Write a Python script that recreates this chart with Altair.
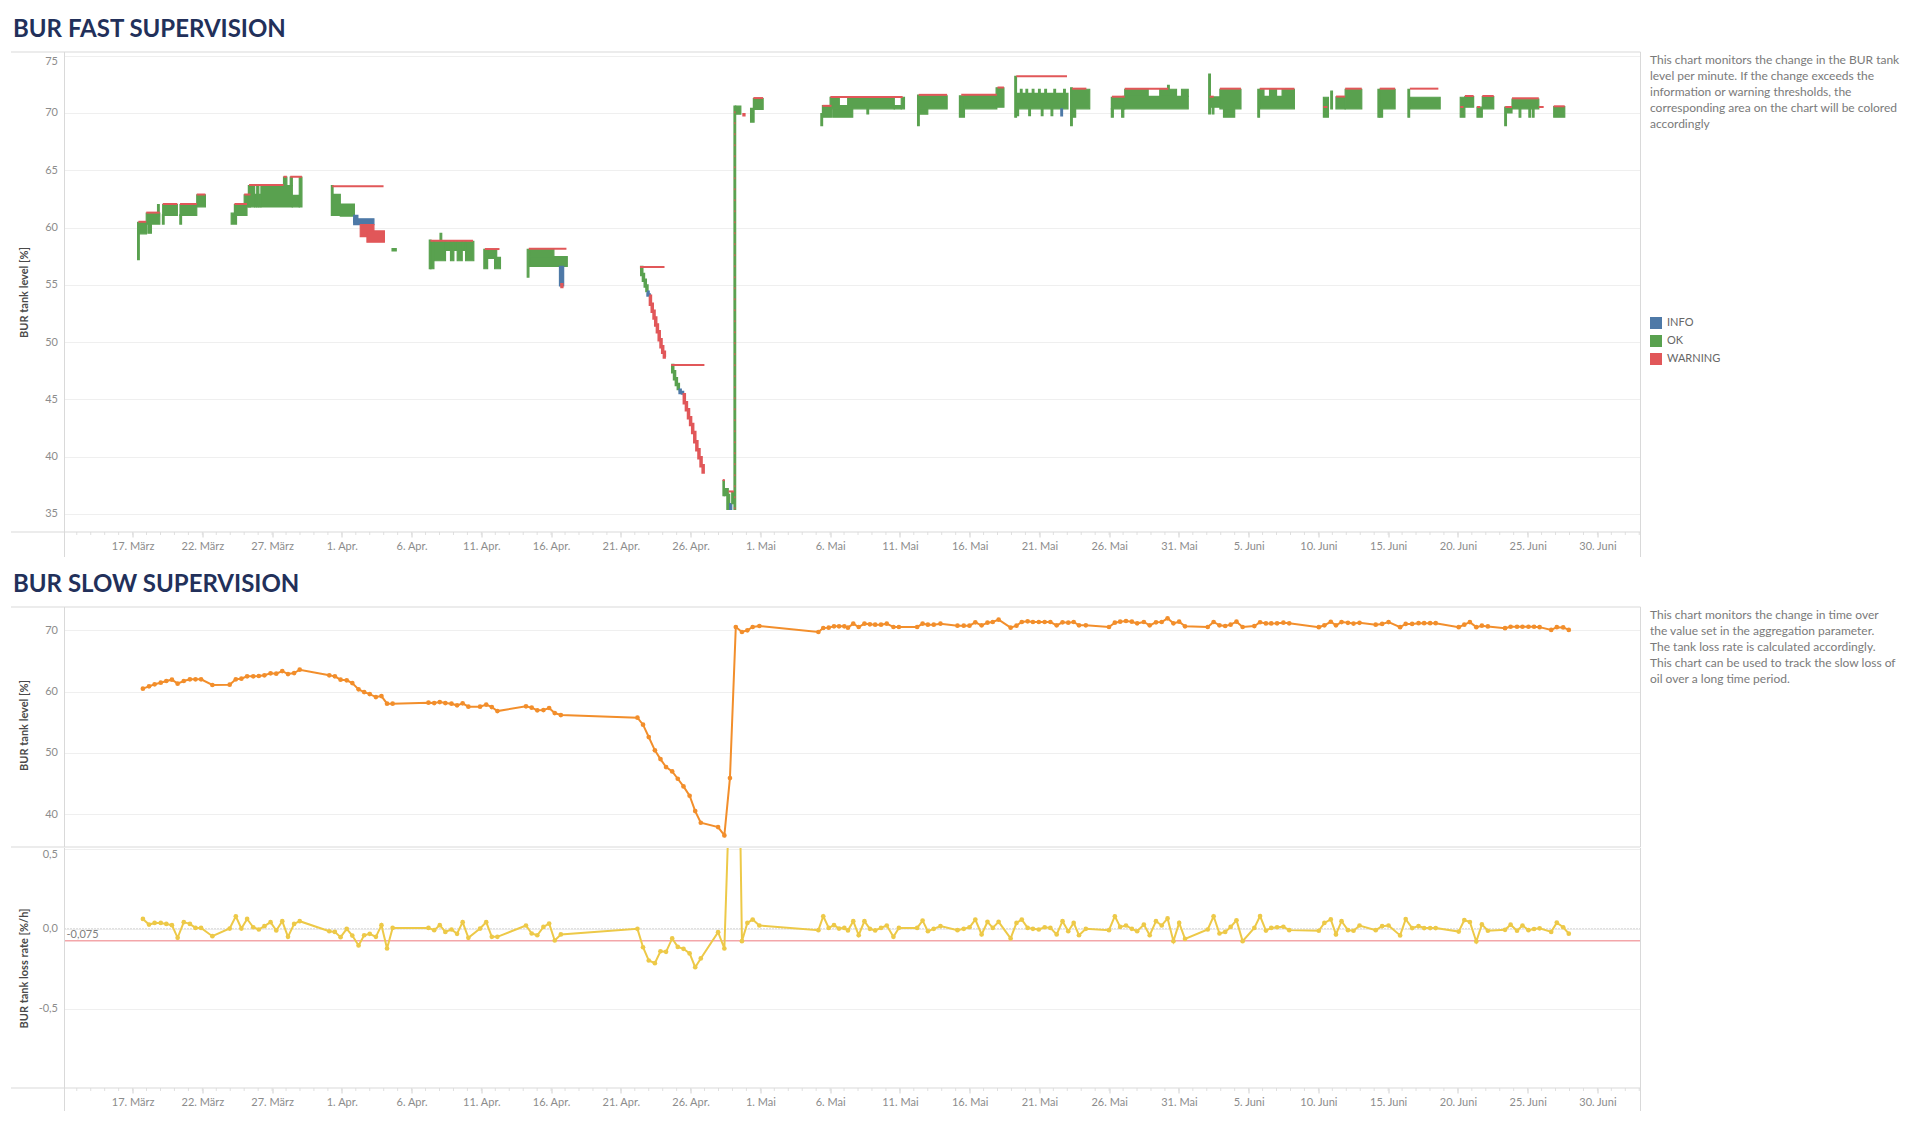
import altair as alt
import pandas as pd

BASE = pd.Timestamp("2024-03-17")

# ---------------- axis labels ----------------
tick_dates = ["2024-03-17", "2024-03-22", "2024-03-27", "2024-04-01", "2024-04-06",
              "2024-04-11", "2024-04-16", "2024-04-21", "2024-04-26", "2024-05-01",
              "2024-05-06", "2024-05-11", "2024-05-16", "2024-05-21", "2024-05-26",
              "2024-05-31", "2024-06-05", "2024-06-10", "2024-06-15", "2024-06-20",
              "2024-06-25", "2024-06-30"]
month_labels = ["Jan.", "Feb.", "März", "Apr.", "Mai", "Juni", "Juli", "Aug.", "Sep.",
                "Okt.", "Nov.", "Dez."]
status_names = ["INFO", "OK", "WARNING"]
status_colors = ["#4e79a7", "#59a14f", "#e15759"]
fast_y_ticks = [35, 40, 45, 50, 55, 60, 65, 70, 75]
level_y_ticks = [40, 50, 60, 70]
rate_y_ticks = [0.5, 0.0, -0.5]

# ---------------- FAST supervision (days after 17 March) ----------------
# dense oscillation blocks: start day, end day, low level, high level, status
fast_blocks = [
    (0.45, 1.00, 59.45, 60.45, "OK"), (0.98, 1.95, 60.30, 61.25, "OK"),
    (1.10, 1.35, 59.50, 60.30, "OK"), (2.16, 3.21, 61.05, 62.00, "OK"),
    (3.40, 4.60, 61.05, 62.00, "OK"), (4.60, 5.22, 61.80, 62.85, "OK"),
    (7.07, 7.45, 60.30, 61.25, "OK"), (7.30, 8.20, 61.05, 62.00, "OK"),
    (8.00, 8.45, 61.80, 62.85, "OK"), (8.30, 8.75, 61.80, 63.66, "OK"),
    (8.75, 8.90, 61.80, 62.90, "OK"), (8.90, 9.05, 61.80, 63.66, "OK"),
    (9.05, 9.20, 61.80, 62.90, "OK"), (9.20, 11.45, 61.80, 63.66, "OK"),
    (10.82, 11.06, 63.66, 64.40, "OK"), (11.30, 11.45, 63.66, 64.40, "OK"),
    (11.45, 11.95, 61.80, 62.80, "OK"), (11.95, 12.14, 61.80, 64.40, "OK"),
    (14.31, 14.89, 61.05, 62.90, "OK"), (14.89, 15.90, 61.00, 62.05, "OK"),
    (15.85, 16.15, 60.45, 61.05, "INFO"), (15.85, 17.30, 60.26, 60.76, "INFO"),
    (16.32, 17.30, 59.20, 60.26, "WARNING"), (16.80, 18.05, 58.72, 59.70, "WARNING"),
    (18.60, 18.90, 57.95, 58.15, "OK"),
    (21.35, 21.60, 56.40, 58.80, "OK"), (21.60, 22.43, 57.10, 58.80, "OK"),
    (22.43, 22.79, 58.00, 58.80, "OK"), (22.79, 23.03, 57.10, 58.80, "OK"),
    (23.03, 23.27, 58.00, 58.80, "OK"), (23.27, 23.63, 57.10, 58.80, "OK"),
    (23.63, 23.87, 58.00, 58.80, "OK"), (23.87, 24.46, 57.10, 58.80, "OK"),
    (25.18, 25.45, 56.40, 58.10, "OK"), (25.45, 26.10, 57.30, 58.10, "OK"),
    (25.95, 26.37, 56.40, 57.40, "OK"),
    (28.45, 31.16, 56.60, 57.45, "OK"), (28.45, 30.20, 57.45, 58.10, "OK"),
    (30.60, 30.90, 54.90, 56.60, "INFO"), (30.70, 30.85, 54.75, 55.10, "WARNING"),
    (42.32, 42.42, 36.60, 37.90, "OK"), (42.42, 42.70, 36.60, 37.20, "OK"),
    (42.60, 42.80, 35.40, 36.70, "OK"), (42.80, 42.95, 35.40, 35.90, "INFO"),
    (42.95, 43.12, 35.90, 36.90, "OK"),
    (43.22, 43.60, 69.90, 70.60, "OK"), (43.75, 43.90, 69.75, 69.95, "WARNING"),
    (44.30, 44.55, 69.20, 70.40, "OK"), (44.50, 45.20, 70.30, 71.25, "OK"),
    (49.45, 50.10, 69.63, 70.65, "OK"), (50.00, 50.66, 70.36, 71.37, "OK"),
    (50.66, 51.26, 70.36, 70.65, "OK"), (51.26, 54.60, 70.36, 71.37, "OK"),
    (54.60, 55.10, 70.36, 70.65, "OK"), (55.10, 55.33, 70.36, 71.37, "OK"),
    (50.19, 51.62, 69.63, 70.36, "OK"),
    (56.35, 58.39, 70.36, 71.50, "OK"), (56.35, 57.00, 69.90, 70.36, "OK"),
    (59.27, 59.63, 69.63, 71.50, "OK"), (59.63, 61.95, 70.36, 71.52, "OK"),
    (61.90, 62.46, 70.50, 72.20, "OK"),
    (63.35, 67.05, 70.36, 71.70, "OK"),
    (67.35, 68.61, 70.36, 72.07, "OK"), (67.35, 67.60, 69.63, 70.36, "OK"),
    (70.16, 71.12, 70.36, 71.37, "OK"), (70.16, 70.30, 69.63, 70.36, "OK"),
    (70.90, 71.05, 69.63, 70.36, "OK"), (71.00, 75.67, 70.36, 71.45, "OK"),
    (71.12, 72.80, 71.45, 72.07, "OK"), (73.63, 74.83, 71.45, 72.07, "OK"),
    (75.19, 75.67, 71.45, 72.07, "OK"),
    (77.27, 77.94, 70.50, 71.40, "OK"), (77.94, 79.45, 70.36, 72.07, "OK"),
    (78.20, 79.00, 69.63, 70.36, "OK"),
    (80.80, 83.28, 70.36, 71.45, "OK"), (80.80, 81.10, 71.45, 72.07, "OK"),
    (81.50, 82.00, 71.45, 72.07, "OK"), (82.40, 83.28, 71.45, 72.07, "OK"),
    (85.36, 85.72, 69.63, 71.37, "OK"), (86.26, 86.92, 70.36, 71.40, "OK"),
    (86.92, 88.11, 70.36, 72.07, "OK"),
    (89.40, 90.50, 70.36, 72.07, "OK"), (89.40, 89.60, 69.63, 70.36, "OK"),
    (91.56, 93.73, 70.36, 71.37, "OK"),
    (95.17, 95.50, 69.63, 71.37, "OK"), (95.50, 96.13, 70.50, 71.43, "OK"),
    (96.37, 96.75, 69.63, 70.50, "OK"), (96.75, 97.57, 70.36, 71.43, "OK"),
    (98.45, 98.88, 70.00, 70.50, "OK"), (98.88, 100.80, 70.36, 71.20, "OK"),
    (101.87, 102.66, 69.63, 70.55, "OK"),
]

# single vertical excursions: day, low, high, status
fast_spikes = [
    (0.42, 57.20, 60.45, "OK"), (1.85, 61.00, 62.00, "OK"), (2.20, 60.30, 61.10, "OK"),
    (3.45, 60.30, 61.10, "OK"), (14.31, 61.05, 63.66, "OK"), (21.33, 56.40, 58.90, "OK"),
    (22.10, 58.80, 59.50, "OK"), (28.35, 55.67, 58.10, "OK"), (43.17, 35.40, 70.60, "OK"),
    (49.40, 68.90, 69.95, "OK"), (52.70, 69.92, 70.36, "OK"), (56.33, 68.90, 71.55, "OK"),
    (63.30, 69.63, 73.20, "OK"), (63.70, 71.70, 72.07, "OK"), (64.10, 71.70, 72.07, "OK"),
    (64.55, 71.70, 72.07, "OK"), (65.00, 71.70, 72.07, "OK"), (65.45, 71.70, 72.07, "OK"),
    (66.10, 71.70, 72.07, "OK"), (66.80, 71.70, 72.07, "OK"), (63.45, 69.77, 70.36, "OK"),
    (64.30, 69.77, 70.36, "OK"), (65.20, 69.77, 70.36, "OK"), (65.90, 69.77, 70.36, "OK"),
    (66.60, 69.75, 70.36, "INFO"), (67.30, 68.90, 72.20, "OK"), (74.25, 72.07, 72.40, "OK"),
    (77.20, 69.92, 73.40, "OK"), (77.45, 69.92, 70.50, "OK"), (80.72, 69.63, 72.07, "OK"),
    (85.95, 70.36, 71.90, "OK"), (89.33, 69.63, 72.07, "OK"), (91.48, 69.63, 72.07, "OK"),
    (98.42, 68.90, 70.50, "OK"), (99.45, 69.63, 70.36, "OK"), (100.15, 69.63, 70.36, "OK"),
    (100.40, 69.63, 70.36, "OK"),
]

# warning level caps: start day, end day, level
fast_caps = [
    (0.42, 0.98, 60.50), (0.98, 1.95, 61.30), (2.16, 3.21, 62.05), (3.40, 4.60, 62.05),
    (4.60, 5.22, 62.88), (7.30, 8.20, 62.05), (8.00, 8.45, 62.88), (8.35, 10.82, 63.70),
    (10.82, 11.06, 64.43), (11.30, 12.14, 64.43), (14.31, 17.99, 63.60),
    (21.35, 24.40, 58.85), (25.25, 26.30, 58.12), (28.40, 31.10, 58.15),
    (36.37, 38.13, 56.55), (38.61, 40.99, 48.00), (42.30, 42.45, 37.95),
    (42.72, 43.10, 36.96), (44.50, 45.20, 71.30), (49.45, 50.10, 70.62),
    (50.02, 55.20, 71.40), (56.35, 58.39, 71.58), (59.40, 61.95, 71.58),
    (62.00, 62.46, 72.22), (63.35, 66.98, 73.20), (67.35, 68.37, 72.12),
    (70.20, 71.12, 71.42), (71.12, 74.24, 72.12), (77.20, 77.50, 71.42),
    (77.94, 79.45, 72.12), (80.80, 83.28, 72.12), (85.36, 85.65, 70.52),
    (86.26, 86.92, 71.43), (86.92, 88.11, 72.12), (89.40, 90.50, 72.12),
    (91.56, 93.60, 72.12), (95.17, 95.40, 70.52), (95.50, 96.13, 71.48),
    (96.37, 96.60, 70.52), (96.75, 97.57, 71.48), (98.40, 98.88, 70.52),
    (98.88, 100.80, 71.28), (100.80, 101.15, 70.52), (101.87, 102.66, 70.58),
]

# stepwise level drop: segment, day, level, status
fast_steps = [
    ("a", 36.37, 56.50, "OK"), ("a", 36.50, 55.90, "OK"), ("a", 36.62, 55.40, "OK"),
    ("a", 36.75, 54.90, "OK"), ("a", 36.87, 54.35, "OK"),
    ("b", 36.87, 54.35, "INFO"), ("b", 36.95, 54.10, "INFO"), ("b", 37.03, 54.00, "INFO"),
    ("c", 37.03, 54.00, "WARNING"), ("c", 37.12, 53.30, "WARNING"), ("c", 37.25, 52.70, "WARNING"),
    ("c", 37.38, 52.10, "WARNING"), ("c", 37.50, 51.50, "WARNING"), ("c", 37.62, 50.90, "WARNING"),
    ("c", 37.75, 50.20, "WARNING"), ("c", 37.88, 49.60, "WARNING"), ("c", 38.00, 49.10, "WARNING"),
    ("c", 38.12, 48.70, "WARNING"), ("c", 38.23, 48.70, "WARNING"),
    ("d", 38.61, 47.96, "OK"), ("d", 38.72, 47.40, "OK"), ("d", 38.85, 46.80, "OK"),
    ("d", 38.98, 46.30, "OK"), ("d", 39.12, 45.80, "OK"),
    ("e", 39.12, 45.80, "INFO"), ("e", 39.25, 45.60, "INFO"), ("e", 39.42, 45.40, "INFO"),
    ("f", 39.42, 45.40, "WARNING"), ("f", 39.55, 44.70, "WARNING"), ("f", 39.70, 44.10, "WARNING"),
    ("f", 39.85, 43.40, "WARNING"), ("f", 40.00, 42.80, "WARNING"), ("f", 40.15, 42.10, "WARNING"),
    ("f", 40.30, 41.30, "WARNING"), ("f", 40.45, 40.60, "WARNING"), ("f", 40.60, 39.90, "WARNING"),
    ("f", 40.75, 39.20, "WARNING"), ("f", 40.90, 38.50, "WARNING"),
]

fast_jump = [(43.17, 35.40, 70.60)]

# ---------------- SLOW supervision ----------------
slow_days = [
    0.74, 1.18, 1.58, 2.02, 2.42, 2.82, 3.23, 3.67, 4.11, 4.51, 4.91, 5.72, 6.96, 7.40, 7.80,
    8.21, 8.65, 9.05, 9.45, 9.89, 10.30, 10.73, 11.14, 11.58, 11.98, 14.10, 14.50, 14.91,
    15.35, 15.75, 16.20, 16.60, 17.00, 17.44, 17.84, 18.24, 18.64, 21.21, 21.62, 22.02,
    22.42, 22.86, 23.26, 23.66, 24.07, 24.91, 25.35, 25.75, 26.15, 28.20, 28.61, 29.01,
    29.45, 29.86, 30.26, 30.70, 36.19, 36.59, 37.00, 37.44, 37.84, 38.24, 38.68, 39.08,
    39.49, 39.93, 40.33, 40.73, 41.97, 42.42, 42.82, 43.24, 43.68, 44.07, 44.45, 44.93,
    49.16, 49.51, 49.90, 50.28, 50.64, 51.02, 51.28, 51.66, 52.05, 52.46, 52.85, 53.23,
    53.65, 54.06, 54.54, 54.93, 56.24, 56.63, 57.01, 57.43, 57.91, 59.13, 59.58, 59.99,
    60.41, 60.86, 61.28, 61.66, 62.08, 62.94, 63.36, 63.74, 64.16, 64.54, 64.96, 65.38,
    65.79, 66.24, 66.66, 67.07, 67.46, 67.84, 68.33, 69.99, 70.41, 70.79, 71.21, 71.63,
    72.01, 72.49, 72.91, 73.36, 73.77, 74.19, 74.61, 75.02, 75.44, 77.07, 77.49, 77.91,
    78.32, 78.71, 79.13, 79.57, 80.41, 80.82, 81.24, 81.62, 82.04, 82.49, 82.91, 85.03,
    85.43, 85.89, 86.26, 86.66, 87.12, 87.52, 87.95, 89.11, 89.57, 90.03, 90.86, 91.26,
    91.72, 92.18, 92.58, 93.01, 93.41, 95.06, 95.46, 95.86, 96.32, 96.72, 97.15, 98.38,
    98.78, 99.24, 99.63, 100.06, 100.46, 100.86, 101.69, 102.09, 102.55, 102.95,
]
slow_level = [
    60.47, 60.85, 61.18, 61.45, 61.72, 61.94, 61.29, 61.72, 62.00, 62.00, 62.00, 61.07, 61.13,
    62.00, 62.10, 62.48, 62.48, 62.54, 62.65, 62.97, 62.92, 63.35, 62.86, 63.02, 63.57, 62.65,
    62.48, 61.94, 61.83, 61.39, 60.36, 59.92, 59.59, 59.10, 59.26, 58.02, 58.02, 58.18, 58.12,
    58.28, 58.12, 58.02, 57.75, 58.07, 57.53, 57.53, 57.86, 57.47, 56.81, 57.58, 57.36, 56.93,
    56.98, 57.31, 56.49, 56.16, 55.73, 54.59, 52.57, 50.40, 48.97, 47.67, 46.96, 45.76, 44.51,
    42.98, 40.47, 38.57, 37.86, 36.50, 45.87, 70.54, 69.73, 70.00, 70.54, 70.71, 69.73, 70.38,
    70.44, 70.65, 70.65, 70.65, 70.44, 71.09, 70.54, 71.09, 70.98, 70.93, 70.93, 71.09, 70.54,
    70.54, 70.54, 71.09, 70.93, 70.93, 71.09, 70.76, 70.76, 70.76, 71.31, 70.82, 71.25, 71.36,
    71.74, 70.44, 70.76, 71.36, 71.47, 71.36, 71.36, 71.36, 71.36, 70.82, 71.31, 71.25, 71.36,
    70.82, 70.82, 70.54, 71.25, 71.41, 71.52, 71.41, 71.14, 71.36, 70.82, 71.31, 71.36, 71.96,
    71.14, 71.41, 70.65, 70.54, 71.36, 70.82, 70.71, 70.93, 71.41, 70.54, 70.70, 71.32, 71.13,
    71.13, 71.15, 71.25, 71.15, 70.52, 70.82, 71.40, 70.82, 71.34, 71.23, 71.11, 71.23, 70.93,
    71.05, 71.34, 70.52, 71.05, 71.05, 71.17, 71.17, 71.17, 71.17, 70.52, 70.93, 71.34, 70.52,
    70.76, 70.64, 70.35, 70.58, 70.58, 70.58, 70.58, 70.58, 70.52, 70.06, 70.52, 70.47, 70.06,
]
slow_rate = [
    0.061, 0.026, 0.036, 0.036, 0.030, 0.022, -0.057, 0.041, 0.030, 0.005, 0.005, -0.047, 0.001,
    0.078, 0.001, 0.061, 0.009, -0.005, 0.016, 0.041, -0.011, 0.047, -0.051, 0.030, 0.047, -0.016,
    -0.020, -0.053, -0.001, -0.043, -0.105, -0.041, -0.032, -0.051, 0.022, -0.124, 0.005, 0.005,
    -0.009, 0.022, -0.020, -0.005, -0.032, 0.041, -0.057, 0.001, 0.041, -0.051, -0.051, 0.020,
    -0.030, -0.041, 0.011, 0.032, -0.074, -0.036, -0.001, -0.116, -0.199, -0.216, -0.141, -0.145,
    -0.061, -0.114, -0.126, -0.155, -0.241, -0.186, -0.022, -0.124, 0.940, 2.470, -0.078, 0.036,
    0.057, 0.020, -0.009, 0.078, 0.005, 0.022, 0.001, 0.005, -0.011, 0.047, -0.041, 0.047, -0.001,
    -0.011, 0.005, 0.020, -0.051, 0.005, 0.005, 0.051, -0.016, -0.001, 0.016, -0.009, -0.001,
    0.009, 0.057, -0.036, 0.043, 0.005, 0.043, -0.061, 0.036, 0.057, 0.005, -0.001, -0.005, 0.009,
    0.005, -0.036, 0.047, -0.016, 0.036, -0.041, -0.001, -0.009, 0.078, 0.011, 0.020, -0.001,
    -0.016, 0.026, -0.041, 0.047, 0.020, 0.064, -0.078, 0.036, -0.064, -0.005, 0.078, -0.030,
    -0.020, 0.011, 0.053, -0.078, 0.005, 0.079, -0.012, 0.005, 0.009, 0.012, -0.009, -0.013,
    0.036, 0.058, -0.036, 0.047, -0.009, -0.013, 0.020, -0.009, 0.016, 0.020, -0.042, 0.060,
    0.004, 0.016, 0.004, 0.004, 0.004, -0.018, 0.054, 0.042, -0.080, 0.027, -0.013, -0.007,
    0.025, -0.013, 0.020, -0.009, -0.002, 0.002, -0.020, 0.038, 0.009, -0.031,
]
rate_reference = [-0.075]
rate_reference_label = ["-0,075"]

fast_title = "BUR FAST SUPERVISION"
slow_title = "BUR SLOW SUPERVISION"
fast_note = ["This chart monitors the change in the BUR tank",
             "level per minute. If the change exceeds the",
             "information or warning thresholds, the",
             "corresponding area on the chart will be colored",
             "accordingly"]
slow_note = ["This chart monitors the change in time over",
             "the value set in the aggregation parameter.",
             "The tank loss rate is calculated accordingly.",
             "This chart can be used to track the slow loss of",
             "oil over a long time period."]

# ---------------- helpers ----------------
def to_time(days):
    return BASE + pd.to_timedelta(pd.Series(days, dtype=float), unit="D")

W = 1576
H_TOP = 480
H_PANE = 240
FONT = "Lato"
LABEL_COLOR = "#8c8c8c"
LINE_COLOR = "#d9d9d9"

x_scale = alt.Scale(domain=[alt.DateTime(year=2024, month=3, date=12, hours=2, minutes=53),
                            alt.DateTime(year=2024, month=7, date=3, hours=2, minutes=10)],
                    nice=False)
tick_values = [alt.DateTime(year=int(s[:4]), month=int(s[5:7]), date=int(s[8:10])) for s in tick_dates]
label_expr = ("date(datum.value) + '. ' + ["
              + ",".join("'" + m + "'" for m in month_labels)
              + "][month(datum.value)]")

x_axis = alt.Axis(values=tick_values, labelExpr=label_expr, title=None, grid=False,
                  domain=False, ticks=True, tickSize=5, tickColor="#d0d0d0",
                  labelPadding=3, labelFontSize=11, labelColor=LABEL_COLOR, labelFont=FONT,
                  labelFlush=False, labelOverlap=False)


def y_axis(values, title, flush, title_y, label_expr=None):
    kw = dict(values=values, title=title, titleX=-40.5, titleY=title_y, titleAlign="center",
              titleBaseline="middle", titleFontSize=11, titleFontWeight="bold",
              titleColor="#4a4a4a", titleFont=FONT, grid=True, gridColor="#efefef",
              domain=False, ticks=False, labelPadding=7, labelFontSize=11,
              labelColor=LABEL_COLOR, labelFont=FONT, labelFlush=flush)
    if label_expr:
        kw["labelExpr"] = label_expr
    return alt.Axis(**kw)


one = pd.DataFrame({"k": [0]})


def hline(y, x0=-53.5, x1=W):
    return alt.Chart(one).mark_rule(color=LINE_COLOR, strokeWidth=1).encode(
        x=alt.value(x0), x2=alt.value(x1), y=alt.value(y))


def vline(x, y0, y1):
    return alt.Chart(one).mark_rule(color=LINE_COLOR, strokeWidth=1).encode(
        x=alt.value(x), y=alt.value(y0), y2=alt.value(y1))


minor_df = pd.DataFrame({"t": pd.date_range("2024-03-13", "2024-07-03", freq="D")})


def minor_ticks(h):
    return alt.Chart(minor_df).mark_rule(color="#e0e0e0").encode(
        x=alt.X("t:T", scale=x_scale, axis=x_axis), y=alt.value(h), y2=alt.value(h + 3))


def note(lines, y):
    df = pd.DataFrame({"txt": ["\n".join(lines)]})
    return alt.Chart(df).mark_text(align="left", baseline="top", lineBreak="\n", lineHeight=16,
                                   fontSize=12, font=FONT, color="#7a7a7a").encode(
        x=alt.value(1585.5), y=alt.value(y), text="txt:N")


def section_title(text, offset):
    return alt.TitleParams(text, anchor="start", frame="group", dx=-51.5, offset=offset,
                           fontSize=24, fontWeight="bold", font=FONT, color="#22305a")


# ---------------- FAST chart ----------------
rect_rows = [(a, b, lo, hi, s) for a, b, lo, hi, s in fast_blocks]
rect_rows += [(d - 0.06, d + 0.06, lo, hi, s) for d, lo, hi, s in fast_spikes]
rect_df = pd.DataFrame(rect_rows, columns=["d0", "d1", "lo", "hi", "status"])
rect_df["t0"] = to_time(rect_df["d0"])
rect_df["t1"] = to_time(rect_df["d1"])
rect_df = rect_df.drop(columns=["d0", "d1"])

caps_df = pd.DataFrame(fast_caps, columns=["d0", "d1", "v"])
caps_df["t0"] = to_time(caps_df["d0"])
caps_df["t1"] = to_time(caps_df["d1"])
caps_df = caps_df.drop(columns=["d0", "d1"])

steps_df = pd.DataFrame(fast_steps, columns=["seg", "d", "v", "status"])
steps_df["t"] = to_time(steps_df["d"])
steps_df = steps_df.drop(columns=["d"])

jump_df = pd.DataFrame(fast_jump, columns=["d", "lo", "hi"])
jump_df["t"] = to_time(jump_df["d"])
jump_df = jump_df.drop(columns=["d"])

y_top_scale = alt.Scale(domain=[33.42, 75.32], nice=False, zero=False)
y_top_axis = y_axis(fast_y_ticks, "BUR tank level [%]", 5, 240)
c_scale = alt.Scale(domain=status_names, range=status_colors)

legend = alt.Legend(title=None, orient="none", legendX=1585.5, legendY=265, symbolType="square",
                    symbolSize=144, symbolStrokeWidth=0, labelFontSize=11, labelFont=FONT,
                    labelColor="#666666", rowPadding=6, labelOffset=5, padding=0)

rects = alt.Chart(rect_df).mark_rect(strokeWidth=1.2).encode(
    x=alt.X("t0:T", scale=x_scale, axis=x_axis), x2="t1",
    y=alt.Y("lo:Q", scale=y_top_scale, axis=y_top_axis), y2="hi",
    color=alt.Color("status:N", scale=c_scale, legend=legend),
    stroke=alt.Stroke("status:N", scale=c_scale, legend=None))

steps = alt.Chart(steps_df).mark_line(interpolate="step-after", strokeWidth=3.5).encode(
    x=alt.X("t:T", scale=x_scale, axis=x_axis),
    y=alt.Y("v:Q", scale=y_top_scale, axis=y_top_axis),
    detail="seg:N",
    color=alt.Color("status:N", scale=c_scale, legend=None))

caps = alt.Chart(caps_df).mark_rule(color="#e15759", strokeWidth=2).encode(
    x=alt.X("t0:T", scale=x_scale, axis=x_axis), x2="t1",
    y=alt.Y("v:Q", scale=y_top_scale, axis=y_top_axis))

jump = alt.Chart(jump_df).mark_rule(color="#e15759", strokeWidth=1.2, strokeDash=[2, 9]).encode(
    x=alt.X("t:T", scale=x_scale, axis=x_axis),
    y=alt.Y("lo:Q", scale=y_top_scale, axis=y_top_axis), y2="hi")

top = alt.layer(
    rects, steps, caps, jump, minor_ticks(H_TOP),
    hline(0), hline(H_TOP), vline(0, 0, 505), vline(W, 0, 505),
    note(fast_note, 3),
).properties(width=W, height=H_TOP, title=section_title(fast_title, 10))

# ---------------- SLOW charts ----------------
slow_df = pd.DataFrame({"t": to_time(slow_days), "level": slow_level, "rate": slow_rate})

y_mid_scale = alt.Scale(domain=[34.61, 73.81], nice=False, zero=False)
y_mid_axis = y_axis(level_y_ticks, "BUR tank level [%]", False, 118)
x_none = alt.X("t:T", scale=x_scale, axis=None)

mid_line = alt.Chart(slow_df).mark_line(color="#f28e2b", strokeWidth=2).encode(
    x=x_none, y=alt.Y("level:Q", scale=y_mid_scale, axis=y_mid_axis))
mid_pts = alt.Chart(slow_df).mark_circle(color="#f28e2b", size=22, opacity=1).encode(
    x=x_none, y=alt.Y("level:Q", scale=y_mid_scale, axis=y_mid_axis))

mid = alt.layer(
    mid_line, mid_pts, hline(0), hline(H_PANE), vline(0, 0, H_PANE), vline(W, 0, H_PANE),
    note(slow_note, 3.4),
).properties(width=W, height=H_PANE, title=section_title(slow_title, 9.5))

y_low_scale = alt.Scale(domain=[-0.997, 0.505], nice=False, zero=False)
y_low_axis = y_axis(rate_y_ticks, "BUR tank loss rate [%/h]", 3, 120,
                    "replace(replace(format(datum.value, '.1f'), '\u2212', '-'), '.', ',')")
x_low = alt.X("t:T", scale=x_scale, axis=x_axis)

ref_df = pd.DataFrame({"r": rate_reference, "label": rate_reference_label})
zero_df = pd.DataFrame({"z": [0.0]})

zero_line = alt.Chart(zero_df).mark_rule(color="#b5b5b5", strokeWidth=1, strokeDash=[1, 2]).encode(
    y=alt.Y("z:Q", scale=y_low_scale, axis=y_low_axis))
ref_line = alt.Chart(ref_df).mark_rule(color="#f3a6aa", strokeWidth=1.5).encode(
    y=alt.Y("r:Q", scale=y_low_scale, axis=y_low_axis))
ref_text = alt.Chart(ref_df).mark_text(align="left", baseline="bottom", dx=2, dy=-1, fontSize=11,
                                       font=FONT, color="#808080").encode(
    x=alt.value(0), y=alt.Y("r:Q", scale=y_low_scale, axis=y_low_axis), text="label:N")
low_line = alt.Chart(slow_df).mark_line(color="#edc948", strokeWidth=2, clip=True).encode(
    x=x_low, y=alt.Y("rate:Q", scale=y_low_scale, axis=y_low_axis))
low_pts = alt.Chart(slow_df).mark_circle(color="#edc948", size=22, opacity=1, clip=True).encode(
    x=x_low, y=alt.Y("rate:Q", scale=y_low_scale, axis=y_low_axis))

low = alt.layer(
    zero_line, ref_line, ref_text, low_line, low_pts, minor_ticks(H_PANE),
    hline(H_PANE), vline(0, 0, 263), vline(W, 0, 263),
).properties(width=W, height=H_PANE)

bottom = alt.vconcat(mid, low, spacing=-2)

chart = alt.vconcat(top, bottom, spacing=15).properties(
    padding={"left": 2.5, "top": 9, "right": 0, "bottom": 0}
).configure(font=FONT).configure_view(strokeWidth=0)

chart.save("out.html", embed_options={"renderer": "svg", "actions": False})
